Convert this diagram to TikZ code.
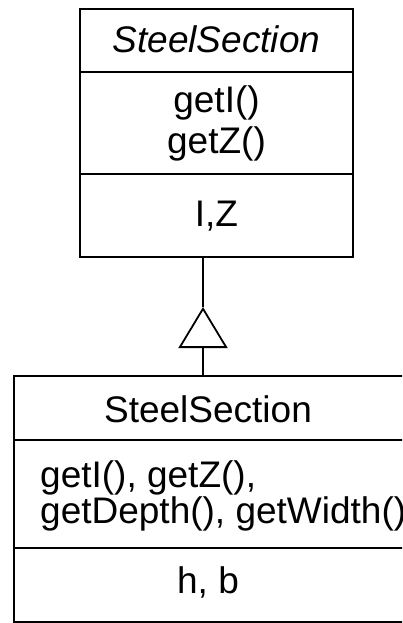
\documentclass[tikz,border=0pt]{standalone}
\usepackage{fontspec}
\setmainfont{Liberation Sans}
\usetikzlibrary{arrows.meta}

\tikzset{
  umlline/.style={line width=1.8pt, black},
  classbox/.style={umlline, draw, rectangle, inner sep=0pt, outer sep=0pt},
  umltext/.style={inner sep=0pt, anchor=base, font=\fontsize{37}{42}\selectfont},
  inherits/.style={umlline, -{Triangle[open, length=41pt, width=49pt]}}
}

\begin{document}
\begin{tikzpicture}[x=1pt, y=1pt]
  \useasboundingbox (0,0) rectangle (402,-623);
  \clip (0,0) rectangle (402,-623);

  % abstract superclass
  \node[classbox, anchor=north west, minimum width=273pt, minimum height=248pt]
    (super) at (80,-9) {};
  \draw[umlline] (80,-72) -- (353,-72);
  \draw[umlline] (80,-174) -- (353,-174);
  \node[umltext, font=\fontsize{37}{42}\selectfont\itshape] (superName) at (216.5,-53) {SteelSection};
  \node[umltext] (superOpA) at (216.5,-113) {getI()};
  \node[umltext] (superOpB) at (216.5,-153) {getZ()};
  \node[umltext] (superAttr) at (216.5,-226) {I,Z};

  % concrete subclass
  \node[classbox, anchor=north west, minimum width=392pt, minimum height=246pt]
    (sub) at (14,-376) {};
  \draw[umlline] (14,-440) -- (406,-440);
  \draw[umlline] (14,-548) -- (406,-548);
  \node[umltext] (subName) at (208,-422) {SteelSection};
  \node[umltext, anchor=base west] (subOpA) at (40,-487) {getI(), getZ(),};
  \node[umltext, anchor=base west] (subOpB) at (40,-523) {getDepth(), getWidth()};
  \node[umltext] (subAttr) at (208,-593) {h, b};

  % generalization
  \coordinate (apex) at (203,-307);
  \draw[inherits] (apex |- sub.north) -- (apex);
  \draw[umlline] (apex) -- (apex |- super.south);
\end{tikzpicture}
\end{document}
